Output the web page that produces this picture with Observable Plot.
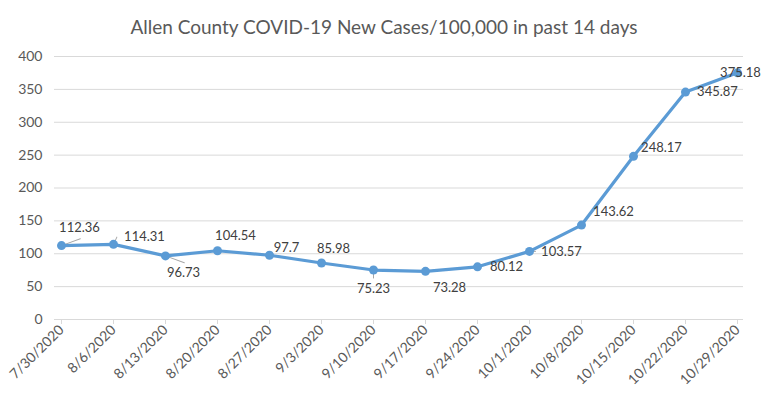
<!DOCTYPE html>
<html><head><meta charset="utf-8">
<script src="https://cdn.jsdelivr.net/npm/d3@7"></script>
<script src="https://cdn.jsdelivr.net/npm/@observablehq/plot@0.6"></script>
<style>
body{margin:0;background:#fff;font-family:Lato,sans-serif;}
#title{width:768px;height:45px;line-height:53px;text-align:center;font-size:19px;color:#595959;}
#chart svg{display:block;}
</style></head><body>
<div id="title">Allen County COVID-19 New Cases/100,000 in past 14 days</div>
<div id="chart"></div>
<script>
const dates = ["7/30/2020","8/6/2020","8/13/2020","8/20/2020","8/27/2020","9/3/2020","9/10/2020","9/17/2020","9/24/2020","10/1/2020","10/8/2020","10/15/2020","10/22/2020","10/29/2020"];
const values = [112.36,114.31,96.73,104.54,97.7,85.98,75.23,73.28,80.12,103.57,143.62,248.17,345.87,375.18];
const yTicks = [0,50,100,150,200,250,300,350,400];

// data-label placement offsets (px), per point
const labelDx = [18,31,18,18,17,12,0,24,29,32,32,28,32,3];
const labelDy = [-18,-8,17,-15,-7,-14,19,17,0,0,-13,-9,0,0];
// leader lines (length px, angle deg clockwise from up), 0 = none
const leaderLen = [20,8,20,0,0,0,8,0,0,6,0,0,0,0];
const leaderAngle = [70,25,110,0,0,0,180,0,0,90,0,0,0,0];

const data = dates.map((d,i)=>({date:d, value:values[i], label:String(values[i]), dx:labelDx[i], dy:labelDy[i], len:leaderLen[i], ang:leaderAngle[i]}));

const font = "Lato, sans-serif";
const textColor = "#595959";
const gridColor = "#d9d9d9";
const lineColor = "#5b9bd5";

const labelMarks = data.map(d => Plot.text([d], {
  x:"date", y:"value", text:"label", dx:d.dx, dy:d.dy,
  fill:"#404040", fontSize:13, fontFamily:font
}));

const leaderShape = {draw(ctx, l){ ctx.moveTo(0,0); ctx.lineTo(0,-l); }};

const chart = Plot.plot({
  width:768, height:351,
  marginTop:11, marginBottom:77, marginLeft:54, marginRight:25,
  style:{fontFamily:font, background:"#fff"},
  x:{type:"point", domain:dates, padding:0.08, label:null},
  y:{domain:[0,400], label:null},
  length:{type:"identity"},
  marks:[
    Plot.ruleY(yTicks.filter(t=>t>0), {stroke:gridColor, strokeWidth:1}),
    Plot.ruleY([0], {stroke:gridColor, strokeWidth:1}),
    Plot.axisY({ticks:yTicks, tickSize:0, tickPadding:12, fontSize:14, fill:textColor, label:null}),
    Plot.axisX({tickRotate:-45, tickSize:5, tickPadding:3, fontSize:14, fill:textColor, stroke:gridColor, label:null}),
    Plot.vector(data.filter(d=>d.len>0), {x:"date", y:"value", length:"len", rotate:"ang", anchor:"start", shape:leaderShape, stroke:"#a6a6a6", strokeWidth:1}),
    Plot.line(data, {x:"date", y:"value", stroke:lineColor, strokeWidth:3.2, strokeLinejoin:"round", strokeLinecap:"round"}),
    Plot.dot(data, {x:"date", y:"value", r:4.5, fill:lineColor, stroke:"none"}),
    ...labelMarks
  ]
});
document.getElementById("chart").appendChild(chart);
</script>
</body></html>
